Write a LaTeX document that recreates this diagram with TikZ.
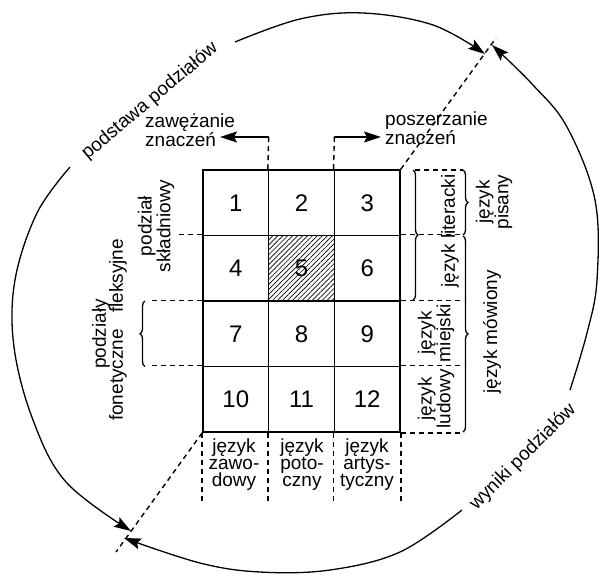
\documentclass[tikz,border=0pt]{standalone}
\usepackage{fontspec}
\setmainfont{Liberation Sans}
\usetikzlibrary{arrows.meta,decorations.pathreplacing,patterns.meta}
\begin{document}
\begin{tikzpicture}[x=1pt,y=1pt,
  lab/.style={font=\fontsize{19}{17}\selectfont, inner sep=0pt, align=center},
  cell/.style={draw, line width=1.6pt, minimum width=65.67pt, minimum height=65.5pt, inner sep=0pt, font=\fontsize{24}{24}\selectfont},
  dsh/.style={line width=1.4pt, dash pattern=on 5pt off 4pt},
  arcline/.style={line width=1.3pt},
  tip/.style={-{Stealth[length=17pt,width=11pt,inset=3pt]}},
  brc/.style={line width=1.3pt, decorate, decoration={brace, amplitude=5pt}},
]
\useasboundingbox (0,0) rectangle (599,-573);

% grid
\node[cell] (c1) at (235.83,-202.75) {1};
\node[cell] (c2) at (301.5,-202.75) {2};
\node[cell] (c3) at (367.17,-202.75) {3};
\node[cell] (c4) at (235.83,-268.25) {4};
\node[cell, pattern={Lines[angle=45,distance=3.5pt,line width=0.7pt]}] (c5) at (301.5,-268.25) {5};
\node[cell] (c6) at (367.17,-268.25) {6};
\node[cell] (c7) at (235.83,-333.75) {7};
\node[cell] (c8) at (301.5,-333.75) {8};
\node[cell] (c9) at (367.17,-333.75) {9};
\node[cell] (c10) at (235.83,-399.25) {10};
\node[cell] (c11) at (301.5,-399.25) {11};
\node[cell] (c12) at (367.17,-399.25) {12};

% narrowing / widening
\coordinate (zA) at (268.67,-137);
\coordinate (zT) at (220,-137);
\draw[dsh] (c2.north west) -- (zA);
\draw[line width=1.4pt, tip] (zA) -- (zT);
\node[lab, anchor=west, align=left] (zaw) at (145,-130) {zawężanie\\znaczeń};

\coordinate (pA) at (334.33,-137);
\coordinate (pT) at (381,-137);
\draw[dsh] (c3.north west) -- (pA);
\draw[line width=1.4pt, tip] (pA) -- (pT);
\node[lab, anchor=west, align=left] (posz) at (385,-128) {poszerzanie\\znaczeń};

% diagonals
\coordinate (dTop) at (496,-38);
\coordinate (dBot) at (116,-552);
\draw[dsh] (c3.north east) -- (dTop);
\draw[dsh] (c10.south west) -- (dBot);

% big arcs
\draw[arcline, tip] plot[smooth, tension=0.6] coordinates {(235,-42) (300,-19) (363,-13) (433,-25) (485,-54)};
\draw[arcline, tip] plot[smooth, tension=0.6] coordinates {(570,-390) (587,-333) (597,-280) (595,-200) (567,-127) (533,-85) (492,-45)};
\draw[arcline, tip] plot[smooth, tension=0.6] coordinates {(70,-167) (37,-213) (15,-280) (14,-347) (33,-420) (66,-482) (131,-531)};
\draw[arcline, tip] plot[smooth, tension=0.6] coordinates {(462,-510) (400,-552) (330,-570) (260,-572) (200,-563) (124,-538)};

\node[lab, rotate=40] (pods) at (150,-101) {podstawa podziałów};
\node[lab, rotate=45] (wyn) at (523,-457) {wyniki podziałów};

% left side
\draw[dsh] (c4.north west) -- ++(-23,0);
\draw[dsh] (c7.north west) -- ++(-53,0);
\draw[dsh] (c10.north west) -- ++(-53,0);
\draw[brc] (145,-366.5) -- (145,-301);
\node[lab, rotate=90] (skl) at (156,-226) {podział\\składniowy};
\node[lab, rotate=90] (pdz) at (101,-334) {podziały};
\node[lab, rotate=90] (fon) at (118,-375) {fonetyczne};
\node[lab, rotate=90] (fle) at (118,-276) {fleksyjne};

% right side
\draw[dsh] (415,-170) -- (463,-170);
\draw[dsh] (c6.north east) -- ++(63,0);
\draw[dsh] (c9.north east) -- ++(63,0);
\draw[dsh] (c12.north east) -- ++(63,0);
\draw[dsh] (c12.south east) -- ++(63,0);
\draw[brc] (413,-170) -- (413,-300);
\draw[brc] (463,-170) -- (463,-235);
\draw[brc] (463,-236) -- (463,-432);
\node[lab, rotate=90] (lit) at (450,-231) {język literacki};
\node[lab, rotate=90] (mie) at (436,-333) {język\\miejski};
\node[lab, rotate=90] (lud) at (436,-399) {język\\ludowy};
\node[lab, rotate=90] (pis) at (494,-202) {język\\pisany};
\node[lab, rotate=90] (mow) at (492,-332) {język mówiony};

% bottom
\draw[dsh] (c10.south west) -- ++(0,-70);
\draw[dsh] (c11.south west) -- ++(0,-70);
\draw[dsh] (c12.south west) -- ++(0,-70);
\draw[dsh] (c12.south east) -- ++(0,-70);
\node[lab] (zaw2) at (234,-465) {język\\zawo-\\dowy};
\node[lab] (pot) at (302,-465) {język\\poto-\\czny};
\node[lab] (art) at (367,-465) {język\\artys-\\tyczny};
\end{tikzpicture}
\end{document}
